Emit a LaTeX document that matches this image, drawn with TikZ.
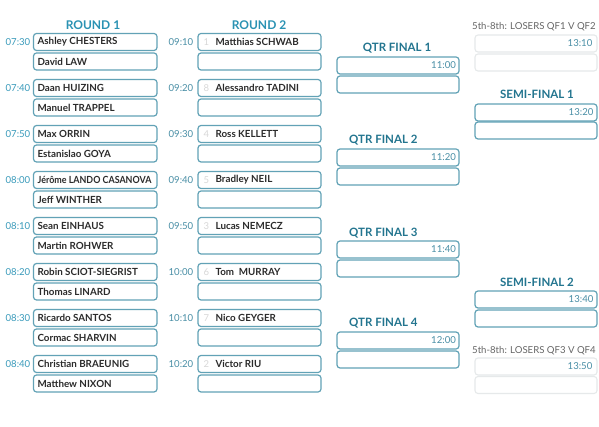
\documentclass[tikz,border=0pt]{standalone}
\usepackage{fontspec}
\setmainfont{Lato}
\definecolor{headc}{HTML}{2A92B3}
\definecolor{qfc}{HTML}{23758F}
\definecolor{timec}{HTML}{3A9BBB}
\definecolor{time2c}{HTML}{4A8FA6}
\definecolor{boxc}{HTML}{62A2B6}
\definecolor{namec}{HTML}{2B2B2B}
\definecolor{seedc}{HTML}{D8D8D8}
\definecolor{faintc}{HTML}{E6E9EA}
\definecolor{greyt}{HTML}{666666}
\begin{document}
\begin{tikzpicture}[x=1pt,y=-1pt,
  slot/.style={draw=boxc, line width=1.2pt, rounded corners=3pt, minimum width=122pt, minimum height=17pt, inner sep=0pt},
  faintslot/.style={draw=faintc, line width=1.1pt, rounded corners=3pt, minimum width=122pt, minimum height=17pt, inner sep=0pt},
  pname/.style={font=\bfseries\fontsize{9.8}{10}\selectfont, text=namec, inner sep=0pt, anchor=west},
  seed/.style={font=\fontsize{9.5}{10}\selectfont, text=seedc, inner sep=0pt, anchor=west},
  tlab/.style={font=\fontsize{9.6}{10}\selectfont, text=timec, inner sep=0pt, anchor=east},
  tlabb/.style={font=\fontsize{9.6}{10}\selectfont, text=time2c, inner sep=0pt, anchor=east},
  head/.style={font=\bfseries\fontsize{12}{13}\selectfont, text=headc, inner sep=0pt},
  qhead/.style={font=\bfseries\fontsize{11.5}{12}\selectfont, text=qfc, inner sep=0pt},
  ghead/.style={font=\fontsize{9.6}{10}\selectfont, text=greyt, inner sep=0pt, anchor=west}]
\useasboundingbox (0,0) rectangle (599,427);
\clip (0,0) rectangle (599,427);
\fill[white] (0,0) rectangle (599,427);

% Headers
\node[head] (h1) at (93,25) {ROUND 1};
\node[head] (h2) at (259,25) {ROUND 2};

% Round 1
\foreach \t/\a/\b [count=\i from 0] in {
  07:30/Ashley CHESTERS/David LAW,
  07:40/Daan HUIZING/Manuel TRAPPEL,
  07:50/Max ORRIN/Estanislao GOYA,
  08:00/{\scalebox{0.91}[1]{Jérôme LANDO CASANOVA}}/Jeff WINTHER,
  08:10/Sean EINHAUS/Martin ROHWER,
  08:20/Robin SCIOT-SIEGRIST/Thomas LINARD,
  08:30/Ricardo SANTOS/Cormac SHARVIN,
  08:40/Christian BRAEUNIG/Matthew NIXON}{
  \node[slot, minimum width=123.5pt] (ra\i) at (95.25,{42+46*\i}) {};
  \node[slot, minimum width=123.5pt] (rb\i) at (95.25,{61.5+46*\i}) {};
  \node[pname] (rat\i) at ([xshift=4.5pt]ra\i.west) {\a};
  \node[pname] (rbt\i) at ([xshift=4.5pt]rb\i.west) {\b};
  \node[tlab] (rt\i) at (30.5,{42+46*\i}) {\t};
}

% Round 2
\foreach \t/\s/\a [count=\i from 0] in {
  09:10/1/Matthias SCHWAB,
  09:20/8/Alessandro TADINI,
  09:30/4/Ross KELLETT,
  09:40/5/Bradley NEIL,
  09:50/3/Lucas NEMECZ,
  10:00/6/Tom\ \ MURRAY,
  10:10/7/Nico GEYGER,
  10:20/2/Victor RIU}{
  \node[slot, minimum width=123pt] (sa\i) at (259.5,{42+46*\i}) {};
  \node[slot, minimum width=123pt] (sb\i) at (259.5,{61.5+46*\i}) {};
  \node[seed] (ss\i) at ([xshift=6pt]sa\i.west) {\s};
  \node[pname] (sat\i) at ([xshift=18pt]sa\i.west) {\a};
  \node[tlabb] (st\i) at (193.5,{42+46*\i}) {\t};
}

% Quarter finals
\node[qhead] (q1h) at (397,48) {QTR FINAL 1};
\node[qhead, anchor=west] (q2h) at (349,140) {QTR FINAL 2};
\node[qhead, anchor=west] (q3h) at (349,233) {QTR FINAL 3};
\node[qhead, anchor=west] (q4h) at (349,323) {QTR FINAL 4};
\foreach \t/\y [count=\i] in {11:00/65.5, 11:20/157.5, 11:40/249.5, 12:00/340.5}{
  \node[slot] (qa\i) at (398,\y) {};
  \node[slot] (qb\i) at (398,\y+19) {};
  \node[tlabb, anchor=east] (qt\i) at ([xshift=-3.5pt]qa\i.east) {\t};
}

% Right column
\node[ghead] (c1h) at (472,27) {5th-8th: LOSERS QF1 V QF2};
\node[faintslot] (ca1) at (536,43.5) {};
\node[faintslot] (cb1) at (536,62.5) {};
\node[tlabb, anchor=east] (ct1) at ([xshift=-5pt]ca1.east) {13:10};

\node[qhead] (s1h) at (537,94) {SEMI-FINAL 1};
\node[slot] (sfa1) at (536,112.5) {};
\node[slot] (sfb1) at (536,130.5) {};
\node[tlabb, anchor=east] (sft1) at ([xshift=-4pt]sfa1.east) {13:20};

\node[qhead] (s2h) at (537,282) {SEMI-FINAL 2};
\node[slot] (sfa2) at (536,299.5) {};
\node[slot] (sfb2) at (536,318.5) {};
\node[tlabb, anchor=east] (sft2) at ([xshift=-4pt]sfa2.east) {13:40};

\node[ghead] (c2h) at (472,351) {5th-8th: LOSERS QF3 V QF4};
\node[faintslot] (ca2) at (536,366.5) {};
\node[faintslot] (cb2) at (536,385) {};
\node[tlabb, anchor=east] (ct2) at ([xshift=-5pt]ca2.east) {13:50};
\end{tikzpicture}
\end{document}
